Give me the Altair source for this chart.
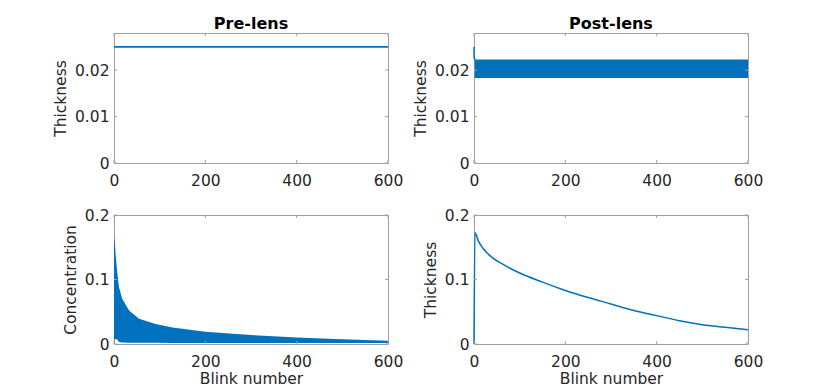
import altair as alt
import pandas as pd

# ---------------- data ----------------
x_ticks = [0, 200, 400, 600]
top_y_ticks = [0, 0.01, 0.02]
bot_y_ticks = [0, 0.1, 0.2]

# Pre-lens thickness (constant)
pre_thk_x = [0, 600]
pre_thk_y = [0.025, 0.025]

# Post-lens thickness: initial spike then oscillating band (envelopes)
post_spike_x = [0, 0.4, 2]
post_spike_y = [0.025, 0.0226, 0.0222]
post_band_x = [1.5, 600]
post_band_hi = [0.0223, 0.0223]
post_band_lo = [0.0183, 0.0183]

# Pre-lens concentration: oscillating band (upper / lower envelopes)
conc_x = [0, 0.5, 1.2, 2, 4, 7, 11, 18, 33, 55, 91, 128, 200, 300, 400, 500, 600]
conc_hi = [0.165, 0.165, 0.160, 0.155, 0.135, 0.112, 0.088, 0.070, 0.052, 0.039,
           0.031, 0.0255, 0.019, 0.014, 0.010, 0.0075, 0.0052]
conc_lo = [0.0, 0.0, 0.008, 0.008, 0.0075, 0.007, 0.003, 0.0025, 0.002, 0.002,
           0.0018, 0.0017, 0.0016, 0.0015, 0.0015, 0.0015, 0.0015]

# Post-lens thickness (bottom right)
post2_x = [0, 2, 10, 20, 40, 60, 80, 100, 150, 200, 250, 300, 350, 400, 450, 500, 550, 600]
post2_y = [0, 0.1725, 0.159, 0.148, 0.134, 0.125, 0.117, 0.110, 0.096, 0.083, 0.072,
           0.062, 0.052, 0.044, 0.036, 0.030, 0.026, 0.022]

# ---------------- styling ----------------
BLUE = "#0072BD"
FONT = "DejaVu Sans"
W, H1, H2 = 274, 130, 129
BOX = "#a0a0a0"
TL = 3  # inward tick length
FS = 15.5


def x_enc(show_title, field="x"):
    return alt.X(
        field + ":Q",
        scale=alt.Scale(domain=[0, 600], nice=False, zero=False),
        axis=alt.Axis(values=x_ticks, ticks=False, domain=False, grid=False,
                      labelFont=FONT, labelFontSize=FS, labelColor="#262626",
                      labelPadding=10, format="d", labelFlush=False,
                      title="Blink number" if show_title else None,
                      titleFont=FONT, titleFontSize=FS, titleFontWeight="normal",
                      titleColor="#262626", titlePadding=2),
    )


def y_enc(field, ydom, yvals, title):
    return alt.Y(
        field + ":Q",
        scale=alt.Scale(domain=ydom, nice=False, zero=False),
        axis=alt.Axis(values=yvals, ticks=False, domain=False, grid=False,
                      labelFont=FONT, labelFontSize=FS, labelColor="#262626",
                      labelPadding=5, format="~g", labelFlush=False,
                      title=title, titleFont=FONT, titleFontSize=FS,
                      titleFontWeight="normal", titleColor="#262626",
                      titlePadding=6),
    )


def tick_layers(ydom, yvals, h, show_xtitle, ytitle):
    xt = pd.DataFrame({"x": x_ticks})
    yt = pd.DataFrame({"y": yvals})
    c = dict(color=BOX, strokeWidth=1)
    return [
        alt.Chart(xt).mark_rule(**c).encode(x=x_enc(show_xtitle),
                                            y=alt.value(h), y2=alt.value(h - TL)),
        alt.Chart(xt).mark_rule(**c).encode(x=x_enc(show_xtitle),
                                            y=alt.value(0), y2=alt.value(TL)),
        alt.Chart(yt).mark_rule(**c).encode(y=y_enc("y", ydom, yvals, ytitle),
                                            x=alt.value(0), x2=alt.value(TL)),
        alt.Chart(yt).mark_rule(**c).encode(y=y_enc("y", ydom, yvals, ytitle),
                                            x=alt.value(W), x2=alt.value(W - TL)),
    ]


def title_params(t):
    return alt.TitleParams(t, font=FONT, fontSize=16, fontWeight="bold",
                           color="black", offset=1, anchor="middle")


TOP_DOM = [0, 0.028]
BOT_DOM = [0, 0.2]

# Top-left: Pre-lens thickness
df_tl = pd.DataFrame({"x": pre_thk_x, "y": pre_thk_y})
tl_main = alt.Chart(df_tl).mark_line(color=BLUE, strokeWidth=1.8).encode(
    x=x_enc(False), y=y_enc("y", TOP_DOM, top_y_ticks, "Thickness"))
tl = alt.layer(tl_main, *tick_layers(TOP_DOM, top_y_ticks, H1, False, "Thickness")).properties(
    width=W, height=H1, title=title_params("Pre-lens"))

# Top-right: Post-lens thickness
df_band = pd.DataFrame({"x": post_band_x, "hi": post_band_hi, "lo": post_band_lo})
df_spike = pd.DataFrame({"x": post_spike_x, "y": post_spike_y})
tr_band = alt.Chart(df_band).mark_area(color=BLUE, opacity=1).encode(
    x=x_enc(False), y=y_enc("hi", TOP_DOM, top_y_ticks, "Thickness"), y2="lo:Q")
tr_spike = alt.Chart(df_spike).mark_line(color=BLUE, strokeWidth=1.5).encode(
    x=x_enc(False), y=y_enc("y", TOP_DOM, top_y_ticks, "Thickness"))
tr = alt.layer(tr_band, tr_spike, *tick_layers(TOP_DOM, top_y_ticks, H1, False, "Thickness")).properties(
    width=W, height=H1, title=title_params("Post-lens"))

# Bottom-left: concentration band
df_conc = pd.DataFrame({"x": conc_x, "hi": conc_hi, "lo": conc_lo})
bl_band = alt.Chart(df_conc).mark_area(color=BLUE, opacity=1).encode(
    x=x_enc(True), y=y_enc("hi", BOT_DOM, bot_y_ticks, "Concentration"), y2="lo:Q")
bl = alt.layer(bl_band, *tick_layers(BOT_DOM, bot_y_ticks, H2, True, "Concentration")).properties(
    width=W, height=H2)

# Bottom-right: post-lens thickness line
df_br = pd.DataFrame({"x": post2_x, "y": post2_y})
br_line = alt.Chart(df_br).mark_line(color=BLUE, strokeWidth=1.5,
                                     interpolate="monotone").encode(
    x=x_enc(True), y=y_enc("y", BOT_DOM, bot_y_ticks, "Thickness"))
br = alt.layer(br_line, *tick_layers(BOT_DOM, bot_y_ticks, H2, True, "Thickness")).properties(
    width=W, height=H2)

chart = alt.concat(tl, tr, bl, br, columns=2,
                   spacing={"row": 18, "column": 8}).properties(
    padding={"left": 44, "top": 7, "right": 5, "bottom": 0},
    background="white",
).configure_view(stroke=BOX, strokeWidth=1)

chart.save("out.html", embed_options={"renderer": "svg", "actions": False})
